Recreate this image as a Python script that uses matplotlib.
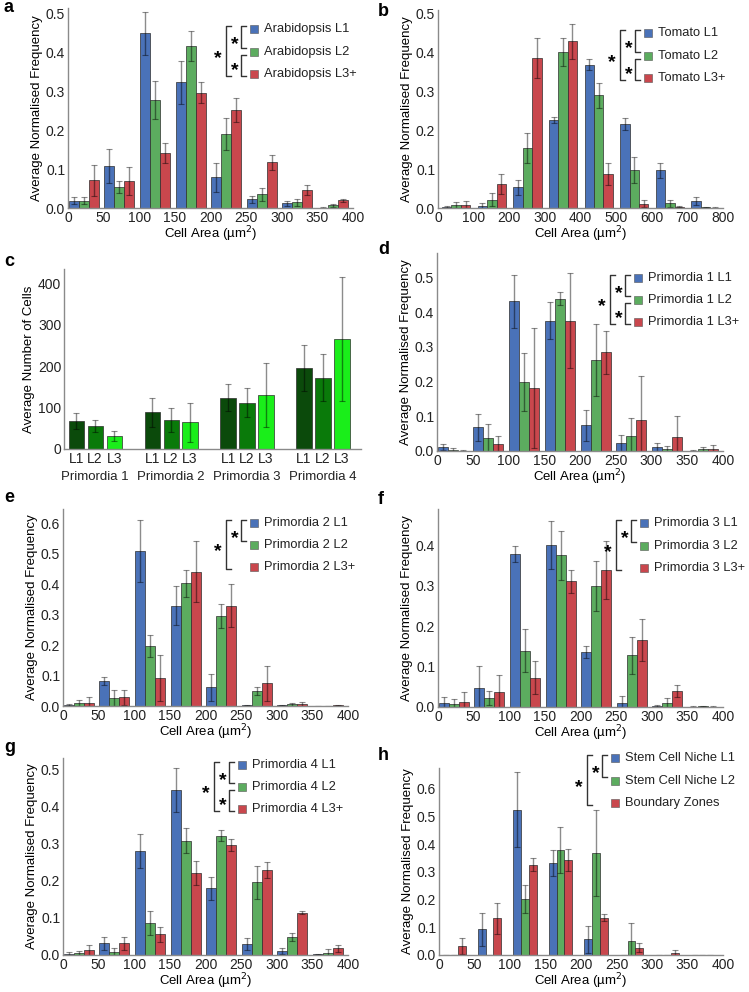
import numpy as np
import matplotlib
matplotlib.use("Agg")
import matplotlib.pyplot as plt
from matplotlib.patches import Rectangle

plt.rcParams['font.family'] = ['Liberation Sans', 'DejaVu Sans']

W, H = 749, 992

BLUE = "#4a72b8"
GREEN = "#5cac5f"
RED = "#c9474d"

# ---- datos (8 intervalos de area por panel) ----
bins_50 = [0, 50, 100, 150, 200, 250, 300, 350]
bins_100 = [0, 100, 200, 300, 400, 500, 600, 700]

a_labels = ["Arabidopsis L1", "Arabidopsis L2", "Arabidopsis L3+"]
a_vals = [[0.019, 0.108, 0.448, 0.322, 0.079, 0.022, 0.012, 0.001],
          [0.019, 0.053, 0.277, 0.416, 0.191, 0.035, 0.015, 0.007],
          [0.071, 0.070, 0.141, 0.296, 0.251, 0.117, 0.046, 0.020]]
a_err = [[0.008, 0.043, 0.055, 0.056, 0.037, 0.009, 0.007, 0.001],
         [0.008, 0.015, 0.049, 0.038, 0.041, 0.017, 0.009, 0.004],
         [0.039, 0.036, 0.025, 0.027, 0.030, 0.019, 0.012, 0.004]]

b_labels = ["Tomato L1", "Tomato L2", "Tomato L3+"]
b_vals = [[0.002, 0.005, 0.053, 0.227, 0.369, 0.217, 0.097, 0.018],
          [0.007, 0.021, 0.155, 0.401, 0.290, 0.098, 0.012, 0.002],
          [0.008, 0.062, 0.387, 0.430, 0.087, 0.011, 0.003, 0.001]]
b_err = [[0.002, 0.007, 0.020, 0.007, 0.014, 0.015, 0.020, 0.011],
         [0.008, 0.017, 0.038, 0.036, 0.033, 0.033, 0.009, 0.001],
         [0.009, 0.026, 0.052, 0.045, 0.029, 0.009, 0.001, 0.001]]

c_groups = ["Primordia 1", "Primordia 2", "Primordia 3", "Primordia 4"]
c_layers = ["L1", "L2", "L3"]
c_vals = [[67, 89, 124, 196],
          [56, 70, 112, 172],
          [31, 64, 130, 265]]
c_err = [[19, 35, 32, 55],
         [14, 30, 34, 57],
         [12, 48, 77, 149]]
c_colors = ["#0b4a0b", "#0a7a0a", "#1aee1a"]

d_labels = ["Primordia 1 L1", "Primordia 1 L2", "Primordia 1 L3+"]
d_vals = [[0.012, 0.068, 0.431, 0.375, 0.074, 0.024, 0.011, 0.001],
          [0.004, 0.038, 0.198, 0.439, 0.263, 0.043, 0.006, 0.005],
          [0.001, 0.021, 0.181, 0.375, 0.284, 0.089, 0.041, 0.007]]
d_err = [[0.009, 0.039, 0.076, 0.054, 0.044, 0.023, 0.012, 0.001],
         [0.006, 0.041, 0.084, 0.019, 0.104, 0.051, 0.009, 0.007],
         [0.001, 0.021, 0.173, 0.136, 0.062, 0.127, 0.059, 0.011]]

e_labels = ["Primordia 2 L1", "Primordia 2 L2", "Primordia 2 L3+"]
e_vals = [[0.002, 0.081, 0.509, 0.329, 0.061, 0.002, 0.002, 0.000],
          [0.009, 0.026, 0.197, 0.403, 0.296, 0.048, 0.005, 0.000],
          [0.011, 0.028, 0.092, 0.440, 0.329, 0.074, 0.005, 0.002]]
e_err = [[0.003, 0.013, 0.102, 0.064, 0.044, 0.002, 0.002, 0.000],
         [0.011, 0.027, 0.037, 0.044, 0.039, 0.013, 0.006, 0.000],
         [0.020, 0.025, 0.076, 0.100, 0.071, 0.057, 0.008, 0.002]]

f_labels = ["Primordia 3 L1", "Primordia 3 L2", "Primordia 3 L3+"]
f_vals = [[0.011, 0.048, 0.378, 0.401, 0.137, 0.010, 0.002, 0.001],
          [0.008, 0.022, 0.139, 0.375, 0.299, 0.128, 0.011, 0.002],
          [0.013, 0.038, 0.073, 0.311, 0.340, 0.167, 0.040, 0.001]]
f_err = [[0.014, 0.054, 0.020, 0.059, 0.015, 0.016, 0.002, 0.001],
         [0.011, 0.018, 0.053, 0.061, 0.062, 0.046, 0.012, 0.001],
         [0.024, 0.042, 0.040, 0.029, 0.072, 0.052, 0.015, 0.001]]

g_labels = ["Primordia 4 L1", "Primordia 4 L2", "Primordia 4 L3+"]
g_vals = [[0.004, 0.031, 0.279, 0.444, 0.180, 0.029, 0.011, 0.002],
          [0.005, 0.007, 0.087, 0.308, 0.321, 0.196, 0.048, 0.006],
          [0.013, 0.031, 0.056, 0.220, 0.296, 0.229, 0.114, 0.018]]
g_err = [[0.003, 0.017, 0.046, 0.059, 0.031, 0.016, 0.007, 0.002],
         [0.006, 0.011, 0.032, 0.033, 0.015, 0.044, 0.011, 0.010],
         [0.015, 0.018, 0.020, 0.033, 0.016, 0.022, 0.005, 0.009]]

h_labels = ["Stem Cell Niche L1", "Stem Cell Niche L2", "Boundary Zones"]
h_vals = [[0.000, 0.093, 0.524, 0.331, 0.056, 0.000, 0.000, 0.000],
          [0.000, 0.000, 0.203, 0.379, 0.368, 0.050, 0.000, 0.000],
          [0.033, 0.132, 0.326, 0.342, 0.135, 0.027, 0.009, 0.000]]
h_err = [[0.000, 0.060, 0.135, 0.048, 0.047, 0.000, 0.000, 0.000],
         [0.000, 0.000, 0.051, 0.082, 0.155, 0.066, 0.000, 0.000],
         [0.029, 0.057, 0.024, 0.039, 0.011, 0.017, 0.009, 0.000]]

TICK_FS = 10
LAB_FS = 9.5
LEG_FS = 9.3
STAR_FS = 14


def px_axes(fig, left, top, right, bottom):
    return fig.add_axes([left / W, 1 - bottom / H, (right - left) / W, (bottom - top) / H])


def estilo(ax):
    for s in ("top", "right"):
        ax.spines[s].set_visible(False)
    for s in ("left", "bottom"):
        ax.spines[s].set_color("#8a8a8a")
        ax.spines[s].set_linewidth(1.0)
    ax.tick_params(length=0, labelsize=TICK_FS, pad=2, colors="#222222")


def barras(ax, bins, vals, err, offset, width, colors):
    for j in range(3):
        x = np.array(bins) + offset + (j - 1) * width
        ax.bar(x, vals[j], width, color=colors[j], edgecolor="#2d2d2d", linewidth=0.5,
               yerr=err[j], ecolor=(0, 0, 0, 0.45), error_kw=dict(elinewidth=1.0, capsize=2.0, capthick=0.8))


def ejes_freq(ax, xmax, ymax, ymax_tick):
    ax.set_xlim(0, xmax)
    ax.set_ylim(0, ymax)
    yt = np.arange(0, ymax_tick + 0.001, 0.1)
    ax.set_yticks(yt)
    ax.set_yticklabels(["%.1f" % v for v in yt])
    ax.set_xticks(np.linspace(0, xmax, 9))
    ax.set_ylabel("Average Normalised Frequency", fontsize=LAB_FS, labelpad=2)
    ax.set_xlabel("Cell Area (\u00b5m$^2$)", fontsize=LAB_FS, labelpad=0)
    estilo(ax)


def leyenda(fig, labels, sx, rows, brackets):
    tf = fig.transFigure
    for lab, col, ry in zip(labels, [BLUE, GREEN, RED], rows):
        fig.patches.append(Rectangle(((sx) / W, 1 - (ry + 4) / H), 8 / W, 8 / H, transform=tf,
                                     facecolor=col, edgecolor="#555555", linewidth=0.4))
        fig.text((sx + 14) / W, 1 - ry / H, lab, fontsize=LEG_FS, va="center", ha="left", color="#222222")

    # el asterisco queda ~0.58 em sobre la linea base
    baja = 0.58 * STAR_FS * 100 / 72

    def corchete(x, y0, y1, xs, ys):
        fig.lines.append(plt.Line2D([(x + 5) / W, x / W, x / W, (x + 5) / W],
                                    [1 - y0 / H, 1 - y0 / H, 1 - y1 / H, 1 - y1 / H],
                                    transform=tf, color="#333333", linewidth=1.0))
        fig.text(xs / W, 1 - (ys + baja) / H, "*", fontsize=STAR_FS, fontweight="bold",
                 ha="center", va="baseline")

    r0, r1, r2 = rows
    if "outer" in brackets:
        corchete(sx - 24, r0 - 3, r2 + 2, sx - 32, (r0 + r2) / 2)
    if "top" in brackets:
        corchete(sx - 9, r0 - 3, r1 - 4, sx - 15, (r0 + r1) / 2 - 2.5)
    if "bottom" in brackets:
        corchete(sx - 9, r1 + 3, r2 + 2, sx - 15, (r1 + r2) / 2 + 0.5)


def etiqueta(fig, x, y, letra):
    fig.text(x / W, 1 - y / H, letra, fontsize=13, fontweight="bold", ha="left", va="center")


def main():
    fig = plt.figure(figsize=(W / 100, H / 100), dpi=100)
    todos = [BLUE, GREEN, RED]

    # a
    ax = px_axes(fig, 68, 8, 353, 208)
    barras(ax, bins_50, a_vals, a_err, 22, 14, todos)
    ejes_freq(ax, 400, 0.513, 0.5)
    leyenda(fig, a_labels, 250, [29, 52, 74], ["outer", "top", "bottom"])
    etiqueta(fig, 4, 8, "a")

    # b
    ax = px_axes(fig, 438, 10, 723, 208)
    barras(ax, bins_100, b_vals, b_err, 51, 26.5, todos)
    ejes_freq(ax, 800, 0.51, 0.5)
    leyenda(fig, b_labels, 644, [33, 56, 78], ["outer", "top", "bottom"])
    etiqueta(fig, 378, 12, "b")

    # c
    ax = px_axes(fig, 64, 269, 361, 449)
    centros = np.arange(len(c_groups))
    for j in range(3):
        ax.bar(centros + (j - 1) * 0.25, c_vals[j], 0.2, color=c_colors[j], edgecolor="#2d2d2d",
               linewidth=0.5, yerr=c_err[j], ecolor=(0, 0, 0, 0.45),
               error_kw=dict(elinewidth=1.0, capsize=2.0, capthick=0.8))
    ax.set_xlim(-0.41, 3.5)
    ax.set_ylim(0, 434)
    ax.set_yticks([0, 100, 200, 300, 400])
    xt = [c + (j - 1) * 0.25 for c in centros for j in range(3)]
    ax.set_xticks(xt)
    ax.set_xticklabels(c_layers * len(c_groups))
    ax.set_ylabel("Average Number of Cells", fontsize=LAB_FS, labelpad=2)
    estilo(ax)
    for c, g in zip(centros, c_groups):
        ax.text(c, -0.155, g, transform=ax.get_xaxis_transform(), ha="center", va="center",
                fontsize=9.5, color="#222222")
    etiqueta(fig, 4, 262, "c")

    # d
    ax = px_axes(fig, 437, 253, 723, 451)
    barras(ax, bins_50, d_vals, d_err, 22, 14, todos)
    ejes_freq(ax, 400, 0.57, 0.5)
    leyenda(fig, d_labels, 634, [278, 300, 322], ["outer", "top", "bottom"])
    etiqueta(fig, 378, 250, "d")

    # e
    ax = px_axes(fig, 63, 509, 348, 706)
    barras(ax, bins_50, e_vals, e_err, 22, 14, todos)
    ejes_freq(ax, 400, 0.646, 0.6)
    leyenda(fig, e_labels, 250, [523, 545, 567], ["outer", "top"])
    etiqueta(fig, 4, 497, "e")

    # f
    ax = px_axes(fig, 438, 509, 723, 707)
    barras(ax, bins_50, f_vals, f_err, 22, 14, todos)
    ejes_freq(ax, 400, 0.49, 0.4)
    leyenda(fig, f_labels, 640, [523, 546, 568], ["outer", "top"])
    etiqueta(fig, 378, 500, "f")

    # g
    ax = px_axes(fig, 63, 758, 348, 955)
    barras(ax, bins_50, g_vals, g_err, 22, 14, todos)
    ejes_freq(ax, 400, 0.53, 0.5)
    leyenda(fig, g_labels, 238, [765, 787, 809], ["outer", "top", "bottom"])
    etiqueta(fig, 4, 748, "g")

    # h
    ax = px_axes(fig, 439, 768, 723, 955)
    barras(ax, bins_50, h_vals, h_err, 21, 11, todos)
    ejes_freq(ax, 400, 0.674, 0.6)
    leyenda(fig, h_labels, 611, [758, 781, 803], ["outer", "top"])
    etiqueta(fig, 378, 755, "h")

    fig.savefig("out.png", dpi=100)


if __name__ == "__main__":
    main()
